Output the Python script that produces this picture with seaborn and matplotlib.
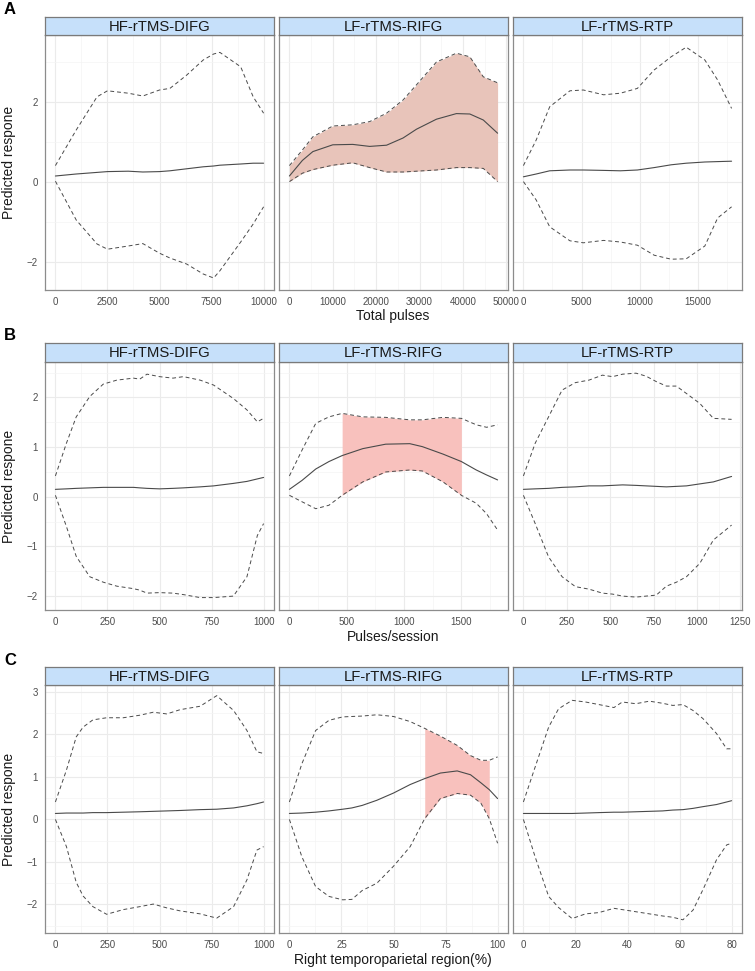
import matplotlib
matplotlib.use("Agg")
import matplotlib.pyplot as plt
from matplotlib.ticker import AutoMinorLocator, FixedLocator
import numpy as np
import seaborn as sns

# ---- data ------------------------------------------------------------------
facets = ["HF-rTMS-DIFG", "LF-rTMS-RIFG", "LF-rTMS-RTP"]
row_labels = ["A", "B", "C"]
x_titles = ["Total pulses", "Pulses/session", "Right temporoparietal region(%)"]
y_title = "Predicted respone"

# row A: total pulses
a1_x = [0, 1000, 2000, 2500, 3500, 4200, 5000, 5500, 6300, 7100, 7600, 7900, 8900, 9500, 10000]
a1_up = [0.41, 1.3, 2.13, 2.28, 2.22, 2.15, 2.3, 2.34, 2.67, 3.05, 3.2, 3.24, 2.88, 2.13, 1.72]
a1_lo = [0.02, -0.95, -1.55, -1.68, -1.6, -1.54, -1.78, -1.9, -2.05, -2.3, -2.4, -2.22, -1.5, -1.05, -0.62]
a1_fit = [0.15, 0.2, 0.24, 0.26, 0.27, 0.25, 0.26, 0.28, 0.33, 0.38, 0.4, 0.42, 0.45, 0.47, 0.47]

a2_x = [0, 3000, 5400, 10000, 14600, 18500, 22400, 26200, 29300, 33900, 38500, 41600, 44700, 48000]
a2_up = [0.41, 0.8, 1.13, 1.4, 1.43, 1.51, 1.72, 2.05, 2.43, 3.0, 3.22, 3.13, 2.63, 2.48]
a2_lo = [0.01, 0.22, 0.31, 0.42, 0.48, 0.36, 0.25, 0.25, 0.27, 0.3, 0.36, 0.36, 0.34, 0.01]
a2_fit = [0.15, 0.54, 0.76, 0.93, 0.94, 0.89, 0.92, 1.1, 1.32, 1.57, 1.71, 1.7, 1.55, 1.22]

a3_x = [0, 1100, 2260, 4000, 5150, 6900, 8340, 9800, 11240, 12700, 14000, 15600, 16700, 17900]
a3_up = [0.41, 1.05, 1.88, 2.28, 2.3, 2.18, 2.22, 2.34, 2.8, 3.13, 3.37, 3.05, 2.55, 1.84]
a3_lo = [0.01, -0.45, -1.12, -1.47, -1.52, -1.46, -1.5, -1.58, -1.83, -1.93, -1.92, -1.6, -0.9, -0.62]
a3_fit = [0.13, 0.2, 0.28, 0.3, 0.3, 0.29, 0.28, 0.3, 0.36, 0.43, 0.47, 0.5, 0.51, 0.52]

# row B: pulses/session
b1_x = [0, 53, 100, 165, 230, 295, 375, 405, 440, 500, 565, 615, 695, 760, 855, 920, 970, 1000]
b1_up = [0.42, 1.08, 1.61, 2.02, 2.27, 2.35, 2.39, 2.37, 2.47, 2.42, 2.39, 2.42, 2.35, 2.25, 1.98, 1.75, 1.51, 1.58]
b1_lo = [0.03, -0.6, -1.2, -1.61, -1.72, -1.8, -1.85, -1.88, -1.94, -1.93, -1.94, -1.97, -2.03, -2.03, -2.0, -1.61, -0.78, -0.54]
b1_fit = [0.15, 0.16, 0.17, 0.18, 0.19, 0.19, 0.19, 0.18, 0.17, 0.16, 0.17, 0.18, 0.2, 0.22, 0.27, 0.31, 0.36, 0.39]

b2_x = [0, 110, 230, 345, 460, 640, 840, 1050, 1160, 1340, 1500, 1630, 1720, 1816]
b2_up = [0.42, 0.94, 1.48, 1.61, 1.68, 1.61, 1.6, 1.55, 1.55, 1.6, 1.58, 1.45, 1.4, 1.45]
b2_lo = [0.03, -0.1, -0.24, -0.17, 0.03, 0.3, 0.5, 0.54, 0.52, 0.3, 0.03, -0.13, -0.34, -0.67]
b2_fit = [0.15, 0.33, 0.56, 0.71, 0.83, 0.97, 1.06, 1.07, 1.01, 0.86, 0.71, 0.54, 0.44, 0.34]

b3_x = [0, 68, 145, 223, 300, 378, 455, 514, 572, 649, 707, 766, 824, 882, 940, 1017, 1095, 1200]
b3_up = [0.42, 1.08, 1.61, 2.15, 2.3, 2.35, 2.45, 2.42, 2.47, 2.49, 2.43, 2.32, 2.23, 2.23, 2.08, 1.88, 1.58, 1.56]
b3_lo = [0.03, -0.54, -1.21, -1.61, -1.81, -1.86, -1.94, -1.96, -2.0, -2.02, -2.0, -1.98, -1.8, -1.72, -1.61, -1.34, -0.87, -0.57]
b3_fit = [0.15, 0.16, 0.17, 0.19, 0.2, 0.22, 0.22, 0.23, 0.24, 0.23, 0.22, 0.21, 0.2, 0.21, 0.22, 0.26, 0.3, 0.41]

# row C: right temporoparietal region (%)
c1_x = [0, 53, 100, 133, 180, 246, 326, 406, 470, 535, 599, 695, 775, 856, 920, 968, 1000]
c1_up = [0.41, 1.16, 1.94, 2.17, 2.34, 2.39, 2.39, 2.45, 2.52, 2.48, 2.58, 2.66, 2.91, 2.56, 2.09, 1.59, 1.55]
c1_lo = [0.0, -0.64, -1.48, -1.8, -2.05, -2.23, -2.12, -2.05, -1.99, -2.08, -2.15, -2.22, -2.32, -2.05, -1.42, -0.72, -0.64]
c1_fit = [0.14, 0.15, 0.15, 0.15, 0.16, 0.16, 0.17, 0.18, 0.19, 0.2, 0.21, 0.23, 0.24, 0.27, 0.32, 0.37, 0.41]

c2_x = [0, 6, 12.6, 19, 25.6, 30, 35, 42, 50, 58, 65, 72.5, 80.6, 87, 92, 96, 100]
c2_up = [0.41, 1.31, 2.09, 2.33, 2.41, 2.42, 2.43, 2.46, 2.42, 2.3, 2.14, 1.96, 1.74, 1.5, 1.39, 1.39, 1.47]
c2_lo = [0.0, -0.88, -1.58, -1.81, -1.89, -1.88, -1.67, -1.5, -1.1, -0.64, 0.02, 0.49, 0.61, 0.57, 0.38, 0.02, -0.56]
c2_fit = [0.14, 0.15, 0.17, 0.2, 0.24, 0.27, 0.33, 0.45, 0.62, 0.82, 0.96, 1.09, 1.14, 1.05, 0.86, 0.7, 0.49]

c3_x = [0, 4.5, 9.7, 13.5, 18.7, 23.9, 29, 34.8, 38, 43.2, 48.4, 53.5, 57.4, 61.3, 65.2, 69, 74.2, 78.1, 80]
c3_up = [0.41, 1.23, 2.17, 2.6, 2.8, 2.76, 2.7, 2.63, 2.76, 2.72, 2.78, 2.73, 2.68, 2.7, 2.56, 2.37, 2.02, 1.66, 1.66]
c3_lo = [0.0, -0.88, -1.81, -2.07, -2.33, -2.22, -2.19, -2.09, -2.12, -2.17, -2.22, -2.27, -2.3, -2.36, -2.13, -1.65, -0.95, -0.6, -0.56]
c3_fit = [0.14, 0.14, 0.14, 0.14, 0.14, 0.15, 0.16, 0.17, 0.17, 0.18, 0.19, 0.2, 0.22, 0.23, 0.26, 0.3, 0.35, 0.41, 0.44]

# significant range shaded in the middle facet of each row (None = whole range)
shade_ranges = [None, (460, 1500), (65, 96)]

x_ticks = [
    [[0, 2500, 5000, 7500, 10000], [0, 10000, 20000, 30000, 40000, 50000], [0, 5000, 10000, 15000]],
    [[0, 250, 500, 750, 1000], [0, 500, 1000, 1500], [0, 250, 500, 750, 1000, 1250]],
    [[0, 250, 500, 750, 1000], [0, 25, 50, 75, 100], [0, 20, 40, 60, 80]],
]
y_ticks = [[-2, 0, 2], [-2, -1, 0, 1, 2], [-2, -1, 0, 1, 2, 3]]
y_limits = [(-2.7, 3.675), (-2.28, 2.715), (-2.67, 3.16)]

panels = [
    [(a1_x, a1_lo, a1_up, a1_fit), (a2_x, a2_lo, a2_up, a2_fit), (a3_x, a3_lo, a3_up, a3_fit)],
    [(b1_x, b1_lo, b1_up, b1_fit), (b2_x, b2_lo, b2_up, b2_fit), (b3_x, b3_lo, b3_up, b3_fit)],
    [(c1_x, c1_lo, c1_up, c1_fit), (c2_x, c2_lo, c2_up, c2_fit), (c3_x, c3_lo, c3_up, c3_fit)],
]

# ---- styling -----------------------------------------------------------------
sns.set_style("white")
plt.rcParams["font.family"] = ["Liberation Sans", "DejaVu Sans"]

W, H = 755, 971
col_left = [45, 279, 513]
col_w = 229
# (strip top, panel top, panel bottom) in pixels
row_px = [(17, 35, 290), (343, 362, 610), (667, 685, 933)]
x_title_y = [316, 637, 960]
fill_colors = ["#E8C4BA", "#F8C1BD", "#F8C1BD"]
strip_color = "#C6E0FA"
border_color = "#8C8C8C"
line_color = "#4A4A4A"

fig = plt.figure(figsize=(W / 100, H / 100), dpi=100)


def frac_box(left, top, width, bottom):
    return [left / W, 1 - bottom / H, width / W, (bottom - top) / H]


for r in range(3):
    s_top, p_top, p_bot = row_px[r]
    for c in range(3):
        xs, lo, up, fit = [np.asarray(v, dtype=float) for v in panels[r][c]]
        ax = fig.add_axes(frac_box(col_left[c], p_top, col_w, p_bot))

        if c == 1:
            rng = shade_ranges[r]
            mask = np.ones_like(xs, dtype=bool) if rng is None else (xs >= rng[0]) & (xs <= rng[1])
            ax.fill_between(xs, lo, up, where=mask, color=fill_colors[r], linewidth=0, zorder=1)

        sns.lineplot(x=xs, y=fit, ax=ax, color=line_color, linewidth=0.8, estimator=None, zorder=3)
        for band in (lo, up):
            sns.lineplot(x=xs, y=band, ax=ax, color=line_color, linewidth=0.7,
                         linestyle=(0, (4, 3)), estimator=None, zorder=3)

        span = xs.max() - xs.min()
        ax.set_xlim(xs.min() - 0.05 * span, xs.max() + 0.05 * span)
        ax.set_ylim(*y_limits[r])
        ax.xaxis.set_major_locator(FixedLocator(x_ticks[r][c]))
        ax.yaxis.set_major_locator(FixedLocator(y_ticks[r]))
        ax.xaxis.set_minor_locator(AutoMinorLocator(2))
        ax.yaxis.set_minor_locator(AutoMinorLocator(2))
        ax.grid(which="major", color="#EBEBEB", linewidth=0.8, zorder=0)
        ax.grid(which="minor", color="#F4F4F4", linewidth=0.5, zorder=0)
        ax.set_axisbelow(True)
        ax.tick_params(which="major", length=3, width=0.6, color="#333333",
                       labelsize=7, labelcolor="#4D4D4D", pad=2)
        ax.tick_params(which="minor", length=0)
        if c > 0:
            ax.tick_params(axis="y", which="both", length=0, labelleft=False)
        for spine in ax.spines.values():
            spine.set_color(border_color)
            spine.set_linewidth(0.9)
        ax.set_xlabel("")
        ax.set_ylabel("")

        strip = fig.add_axes(frac_box(col_left[c], s_top, col_w, p_top))
        strip.set_facecolor(strip_color)
        strip.set_xticks([])
        strip.set_yticks([])
        for spine in strip.spines.values():
            spine.set_color("#7A7A7A")
            spine.set_linewidth(0.9)
        strip.text(0.5, 0.47, facets[c], ha="center", va="center", fontsize=10.7,
                   color="#1A1A1A", transform=strip.transAxes)

    fig.text(393 / W, 1 - x_title_y[r] / H, x_titles[r], ha="center", va="center",
             fontsize=10, color="#1A1A1A")
    fig.text(9 / W, 1 - ((p_top + p_bot) / 2) / H, y_title, ha="center", va="center",
             rotation=90, fontsize=10, color="#1A1A1A")
    fig.text(4 / W, 1 - (s_top - 7) / H, row_labels[r], ha="left", va="center",
             fontsize=12, fontweight="bold", color="black")

fig.savefig("out.png", dpi=100)
